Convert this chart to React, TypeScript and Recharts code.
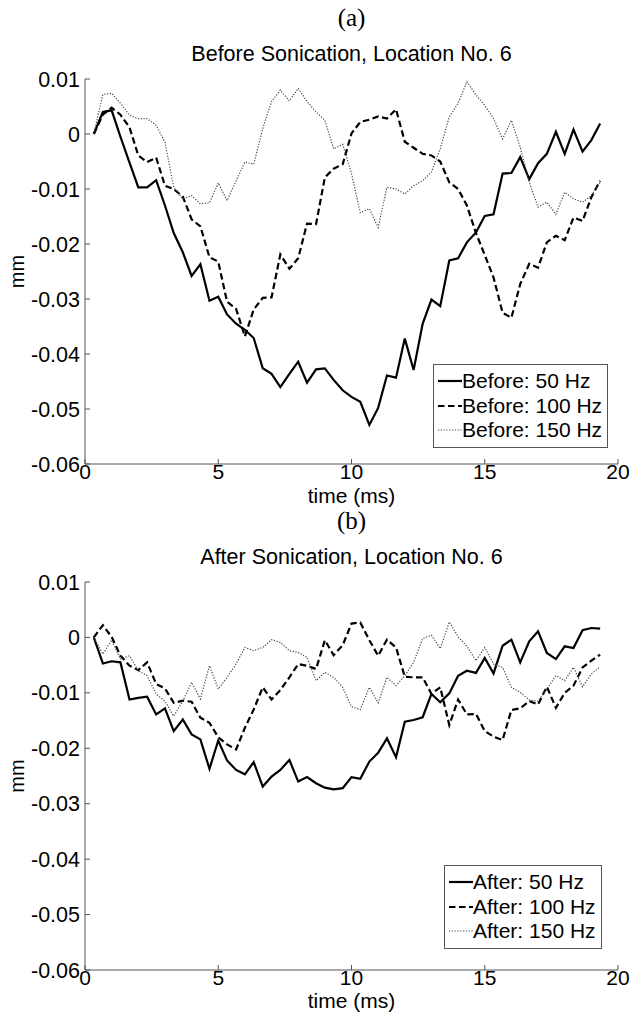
import { LineChart, Line, XAxis, YAxis, Legend, Label } from "recharts";

// sample times (ms), one sample every 1/3 ms
const TIME = [
  0.33, 0.67, 1.0, 1.33, 1.67, 2.0, 2.33, 2.67, 3.0, 3.33, 3.67, 4.0, 4.33, 4.67, 5.0,
  5.33, 5.67, 6.0, 6.33, 6.67, 7.0, 7.33, 7.67, 8.0, 8.33, 8.67, 9.0, 9.33, 9.67, 10.0,
  10.33, 10.67, 11.0, 11.33, 11.67, 12.0, 12.33, 12.67, 13.0, 13.33, 13.67, 14.0, 14.33,
  14.67, 15.0, 15.33, 15.67, 16.0, 16.33, 16.67, 17.0, 17.33, 17.67, 18.0, 18.33, 18.67,
  19.0, 19.33,
];

const BEFORE_50 = [
  0, 0.004, 0.0043, -0.0005, -0.0052, -0.0097,
  -0.0097, -0.0084, -0.013, -0.018, -0.0215, -0.0258,
  -0.0237, -0.0303, -0.0296, -0.0328, -0.0345, -0.0356,
  -0.0371, -0.0426, -0.0436, -0.046, -0.0436, -0.0414,
  -0.0452, -0.0428, -0.0426, -0.0447, -0.0466, -0.0478,
  -0.0487, -0.0529, -0.0498, -0.0439, -0.0443, -0.0372,
  -0.0429, -0.0345, -0.0301, -0.0313, -0.023, -0.0226,
  -0.0197, -0.0179, -0.0149, -0.0146, -0.0072, -0.0071,
  -0.0042, -0.0082, -0.0053, -0.0036, 0.0004, -0.0036,
  0.0008, -0.0032, -0.0011, 0.0019,
];

const BEFORE_100 = [
  0, 0.0035, 0.0048, 0.0035, 0.0012, -0.0039,
  -0.0051, -0.0043, -0.0094, -0.01, -0.0114, -0.0155,
  -0.0168, -0.0224, -0.0232, -0.0305, -0.0318, -0.0368,
  -0.0319, -0.0298, -0.0297, -0.0219, -0.0245, -0.0226,
  -0.0163, -0.0164, -0.0079, -0.0063, -0.0055, 0.0001,
  0.0022, 0.0026, 0.0032, 0.0028, 0.0045, -0.0014,
  -0.0025, -0.0036, -0.0039, -0.005, -0.0088, -0.01,
  -0.013, -0.018, -0.022, -0.0261, -0.0325, -0.0334,
  -0.0273, -0.0236, -0.0243, -0.0197, -0.0185, -0.0193,
  -0.0152, -0.0158, -0.0115, -0.0085,
];

const BEFORE_150 = [
  0, 0.0072, 0.0074, 0.0056, 0.0034, 0.0028,
  0.0028, 0.0016, -0.0015, -0.0097, -0.0118, -0.0112,
  -0.0127, -0.0125, -0.0089, -0.0121, -0.0085, -0.0051,
  -0.0055, 0.001, 0.0059, 0.008, 0.006, 0.0083,
  0.0059, 0.004, 0.0025, -0.0027, -0.0019, -0.0072,
  -0.0143, -0.0136, -0.017, -0.0097, -0.01, -0.0109,
  -0.0094, -0.0085, -0.0069, -0.0027, 0.0031, 0.0056,
  0.0095, 0.0071, 0.0052, 0.0028, -0.0009, 0.0025,
  -0.0024, -0.0088, -0.0133, -0.0124, -0.0146, -0.0106,
  -0.0118, -0.0124, -0.0112, -0.0088,
];

const AFTER_50 = [
  0, -0.0047, -0.0043, -0.0045, -0.0112, -0.0109,
  -0.0107, -0.0139, -0.0128, -0.0169, -0.0148, -0.0175,
  -0.0184, -0.0237, -0.0186, -0.0222, -0.0239, -0.0247,
  -0.0225, -0.0269, -0.0251, -0.0239, -0.0221, -0.026,
  -0.0252, -0.0263, -0.0271, -0.0274, -0.0272, -0.0252,
  -0.0255, -0.0224, -0.0208, -0.0182, -0.0216, -0.0152,
  -0.0149, -0.0144, -0.0102, -0.0117, -0.0101, -0.0069,
  -0.006, -0.0064, -0.0037, -0.0065, -0.0015, -0.0004,
  -0.0045, -0.0007, 0.0011, -0.0028, -0.0039, -0.0016,
  -0.0019, 0.0013, 0.0017, 0.0016,
];

const AFTER_100 = [
  0, 0.0022, 0.0001, -0.0033, -0.0051, -0.0059,
  -0.0045, -0.0084, -0.0092, -0.0118, -0.0114, -0.0116,
  -0.0145, -0.0154, -0.018, -0.0193, -0.0202, -0.0163,
  -0.013, -0.009, -0.0112, -0.0095, -0.0072, -0.0048,
  -0.0051, -0.0057, -0.0005, -0.0032, -0.0014, 0.0025,
  0.0027, -0.0005, -0.0033, -0.0004, -0.0018, -0.0071,
  -0.0072, -0.0072, -0.0102, -0.009, -0.0158, -0.0112,
  -0.0139, -0.0138, -0.0169, -0.0179, -0.0185, -0.0131,
  -0.0128, -0.0115, -0.0121, -0.0089, -0.0127, -0.01,
  -0.0087, -0.0054, -0.0042, -0.0031,
];

const AFTER_150 = [
  0, -0.003, -0.0005, -0.0039, -0.0033, -0.006,
  -0.0069, -0.0102, -0.0115, -0.0142, -0.0115, -0.0081,
  -0.0111, -0.0051, -0.0093, -0.0072, -0.0048, -0.0018,
  -0.0024, -0.0018, -0.0004, -0.0009, -0.0024, -0.0027,
  -0.0036, -0.0078, -0.0063, -0.0072, -0.009, -0.0125,
  -0.013, -0.009, -0.0118, -0.0072, -0.0087, -0.0069,
  -0.0045, -0.0002, 0.0004, -0.002, 0.0028, 0.0001,
  -0.0016, -0.0042, -0.0018, -0.0048, -0.0054, -0.009,
  -0.0099, -0.0113, -0.0115, -0.0093, -0.0069, -0.0078,
  -0.0054, -0.0089, -0.0066, -0.0053,
];

const X_TICKS = [0, 5, 10, 15, 20];
const Y_TICKS = [-0.06, -0.05, -0.04, -0.03, -0.02, -0.01, 0, 0.01];
const BEFORE_LABELS = ["Before: 50 Hz", "Before: 100 Hz", "Before: 150 Hz"];
const AFTER_LABELS = ["After: 50 Hz", "After: 100 Hz", "After: 150 Hz"];

const FONT = "'Liberation Sans', Arial, sans-serif";
const SERIF = "'Liberation Serif', 'Times New Roman', serif";
const AXIS = "#555";

// solid / dashed / dotted, same order as the legend
const LINE_STYLES = [
  { stroke: "#000", width: 2.2, dash: undefined as string | undefined },
  { stroke: "#000", width: 2.2, dash: "6.5 3.5" },
  { stroke: "#444", width: 1.2, dash: "1.2 1.6" },
];

const fmtY = (v: number) => (v === 0 ? "0" : v.toFixed(2));

function BoxLegend({ labels, width }: { labels: string[]; width: number }) {
  return (
    <div
      style={{
        width,
        boxSizing: "border-box",
        border: `1px solid ${AXIS}`,
        background: "#fff",
        padding: "4px 0 4px 4px",
        fontFamily: FONT,
        fontSize: 21,
        color: "#000",
      }}
    >
      {labels.map((lab, i) => (
        <div key={lab} style={{ display: "flex", alignItems: "center", height: 24.5, whiteSpace: "nowrap" }}>
          <svg width={24} height={10} style={{ flex: "none" }}>
            <line
              x1={0}
              x2={24}
              y1={5}
              y2={5}
              stroke={LINE_STYLES[i].stroke}
              strokeWidth={LINE_STYLES[i].width}
              strokeDasharray={LINE_STYLES[i].dash}
            />
          </svg>
          <span>{lab}</span>
        </div>
      ))}
    </div>
  );
}

interface PanelProps {
  letter: string;
  title: string;
  top: number;
  height: number;
  plotTop: number;
  plotBottom: number;
  series: number[][];
  labels: string[];
  legendLeft: number;
  legendTop: number;
  legendWidth: number;
  xLabelOffset: number;
}

function Panel(p: PanelProps) {
  const data = TIME.map((t, i) => ({ t, a: p.series[0][i], b: p.series[1][i], c: p.series[2][i] }));
  const keys = ["a", "b", "c"];
  const textBox = (centerY: number, size: number, family: string, text: string) => (
    <div
      style={{
        position: "absolute",
        left: 85,
        width: 533,
        top: centerY - 15,
        height: 30,
        lineHeight: "30px",
        textAlign: "center",
        fontFamily: family,
        fontSize: size,
        color: "#000",
      }}
    >
      {text}
    </div>
  );

  return (
    <div style={{ position: "absolute", left: 0, top: p.top, width: 643, height: p.height }}>
      {textBox(p.plotTop - 61, 25, SERIF, `(${p.letter})`)}
      {textBox(p.plotTop - 25, 21.5, FONT, p.title)}
      <LineChart
        width={643}
        height={p.height}
        data={data}
        margin={{ top: p.plotTop, right: 25, bottom: p.height - p.plotBottom - 45, left: 10 }}
      >
        <XAxis
          dataKey="t"
          type="number"
          domain={[0, 20]}
          ticks={X_TICKS}
          interval={0}
          allowDataOverflow
          height={45}
          tickSize={-5}
          tickMargin={5}
          axisLine={{ stroke: AXIS }}
          tickLine={{ stroke: AXIS }}
          tick={{ fill: "#000", fontSize: 21, fontFamily: FONT }}
        >
          <Label
            value="time (ms)"
            position="insideBottom"
            offset={p.xLabelOffset}
            style={{ fill: "#000", fontSize: 21, fontFamily: FONT }}
          />
        </XAxis>
        <XAxis
          xAxisId="top"
          orientation="top"
          type="number"
          domain={[0, 20]}
          ticks={X_TICKS}
          interval={0}
          allowDataOverflow
          height={0}
          tick={false}
          tickSize={-5}
          axisLine={{ stroke: AXIS }}
          tickLine={{ stroke: AXIS }}
        />
        <YAxis
          type="number"
          domain={[-0.06, 0.01]}
          ticks={Y_TICKS}
          interval={0}
          allowDataOverflow
          width={75}
          tickSize={-5}
          tickMargin={10}
          tickFormatter={fmtY}
          axisLine={{ stroke: AXIS }}
          tickLine={{ stroke: AXIS }}
          tick={{ fill: "#000", fontSize: 21.5, fontFamily: FONT }}
        >
          <Label
            value="mm"
            angle={-90}
            position="insideLeft"
            offset={7}
            style={{ fill: "#000", fontSize: 20, fontFamily: FONT, textAnchor: "middle" }}
          />
        </YAxis>
        <YAxis
          yAxisId="right"
          orientation="right"
          type="number"
          domain={[-0.06, 0.01]}
          ticks={Y_TICKS}
          interval={0}
          allowDataOverflow
          width={0}
          tick={false}
          tickSize={-5}
          axisLine={{ stroke: AXIS }}
          tickLine={{ stroke: AXIS }}
        />
        {keys.map((k, i) => (
          <Line
            key={k}
            dataKey={k}
            type="linear"
            stroke={LINE_STYLES[i].stroke}
            strokeWidth={LINE_STYLES[i].width}
            strokeDasharray={LINE_STYLES[i].dash}
            dot={false}
            activeDot={false}
            isAnimationActive={false}
          />
        ))}
        <Legend
          layout="horizontal"
          verticalAlign="middle"
          align="center"
          content={() => <BoxLegend labels={p.labels} width={p.legendWidth} />}
          wrapperStyle={{ left: p.legendLeft, top: p.legendTop, width: "auto", bottom: "auto", right: "auto" }}
        />
      </LineChart>
    </div>
  );
}

export default function App() {
  return (
    <div style={{ position: "absolute", left: 0, top: 0, width: 643, height: 1021, background: "#fff" }}>
      <Panel
        letter="a"
        title="Before Sonication, Location No. 6"
        top={0}
        height={515}
        plotTop={79}
        plotBottom={464}
        series={[BEFORE_50, BEFORE_100, BEFORE_150]}
        labels={BEFORE_LABELS}
        legendLeft={433}
        legendTop={364}
        legendWidth={175}
        xLabelOffset={6}
      />
      <Panel
        letter="b"
        title="After Sonication, Location No. 6"
        top={500}
        height={521}
        plotTop={82}
        plotBottom={470}
        series={[AFTER_50, AFTER_100, AFTER_150]}
        labels={AFTER_LABELS}
        legendLeft={444}
        legendTop={365}
        legendWidth={158}
        xLabelOffset={7}
      />
    </div>
  );
}
